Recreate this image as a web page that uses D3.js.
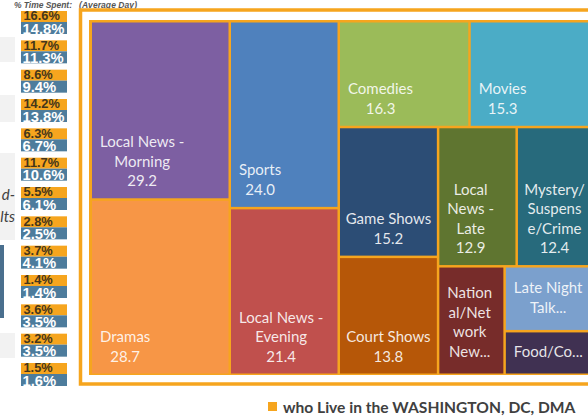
<!DOCTYPE html>
<html>
<head>
<meta charset="utf-8">
<script src="https://cdn.jsdelivr.net/npm/d3@7"></script>
<style>
  html, body { margin: 0; padding: 0; background: #ffffff; }
  svg { display: block; }
</style>
</head>
<body>
<svg id="chart" width="588" height="420"></svg>
<script>
// ---- data ----
const categories = ["Local News - Morning", "Dramas", "Sports", "Local News - Evening", "Comedies", "Movies",
  "Game Shows", "Court Shows", "Local News - Late", "Mystery/Suspense/Crime", "National/Network News",
  "Late Night Talk", "Food/Cooking"];
const values = [29.2, 28.7, 24.0, 21.4, 16.3, 15.3, 15.2, 13.8, 12.9, 12.4, 8.5, 6.7, 4.5];
const labelLines = [
  ["Local News -", "Morning", "29.2"],
  ["Dramas", "28.7"],
  ["Sports", "24.0"],
  ["Local News -", "Evening", "21.4"],
  ["Comedies", "16.3"],
  ["Movies", "15.3"],
  ["Game Shows", "15.2"],
  ["Court Shows", "13.8"],
  ["Local", "News -", "Late", "12.9"],
  ["Mystery/", "Suspens", "e/Crime", "12.4"],
  ["Nation", "al/Net", "work", "New..."],
  ["Late Night", "Talk..."],
  ["Food/Co..."]
];
const cellColors = ["#7D5FA2", "#F79646", "#4F81BD", "#C0504D", "#9BBB59", "#4BACC6",
  "#2C4D75", "#B65708", "#5F7530", "#276A7C", "#772C2A", "#7BA0CD", "#403152"];
const rowSizes = [2, 2, 2, 2, 2, 1, 1, 1];   // how many tiles each strip of the layout holds
const pctWashington = [16.6, 11.7, 8.6, 14.2, 6.3, 11.7, 5.5, 2.8, 3.7, 1.4, 3.6, 3.2, 1.5];
const pctOther = [14.8, 11.3, 9.4, 13.8, 6.7, 10.6, 6.1, 2.5, 4.1, 1.4, 3.5, 3.5, 1.6];
const legendLabel = "who Live in the WASHINGTON, DC, DMA";
const headerLeft = "% Time Spent:";
const headerRight = "(Average Day)";
const sideFragments = ["d-", "lts"];

// ---- styles ----
const ORANGE = "#F6A51E";
const BLUE = "#4D7C9C";
const svg = d3.select("#chart");

// header
svg.append("text").attr("x", 14).attr("y", 7.5).text(headerLeft)
  .attr("textLength", 58).attr("lengthAdjust", "spacing")
  .attr("font-family", "Liberation Sans, Arial, sans-serif").attr("font-size", 8.5)
  .attr("font-style", "italic").attr("font-weight", "bold").attr("fill", "#555");
svg.append("text").attr("x", 79).attr("y", 7.5).text(headerRight)
  .attr("textLength", 58).attr("lengthAdjust", "spacing")
  .attr("font-family", "Liberation Sans, Arial, sans-serif").attr("font-size", 8.5)
  .attr("font-style", "italic").attr("font-weight", "bold").attr("fill", "#555");

// left side fragments (cropped panel)
const grayBoxes = [[37, 62], [95, 122], [153, 240], [333, 358]];
svg.selectAll("rect.gray").data(grayBoxes).join("rect").attr("class", "gray")
  .attr("x", 0).attr("y", d => d[0]).attr("width", 15).attr("height", d => d[1] - d[0])
  .attr("fill", "#F2F2F2");
svg.append("rect").attr("x", 0).attr("y", 245).attr("width", 4).attr("height", 73).attr("fill", "#4A6F8E");
svg.selectAll("text.frag").data(sideFragments).join("text").attr("class", "frag")
  .attr("x", 15).attr("y", (d, i) => 200 + i * 22).attr("text-anchor", "end")
  .attr("font-family", "Lato, sans-serif").attr("font-size", 15).attr("font-style", "italic")
  .attr("fill", "#404040").text(d => d);

// percentage pairs
const pairScale = d3.scaleLinear().domain([0, pctWashington.length - 1]).range([11, 363]);
const fmt = d => d3.format(".1f")(d) + "%";
const pairs = svg.selectAll("g.pair").data(pctWashington.map((v, i) => ({ a: v, b: pctOther[i], i })))
  .join("g").attr("class", "pair").attr("transform", d => `translate(21,${pairScale(d.i)})`);
pairs.append("rect").attr("width", 46).attr("height", 11).attr("fill", ORANGE);
pairs.append("rect").attr("y", 11).attr("width", 46).attr("height", 12).attr("fill", BLUE);
pairs.append("text").attr("x", 2.5).attr("y", 9.4).text(d => fmt(d.a))
  .attr("font-family", "Liberation Sans, Arial, sans-serif").attr("font-weight", "bold")
  .attr("font-size", 12.8).attr("fill", "#45361A");
pairs.append("text").attr("x", 1.5).attr("y", 22.5).text(d => fmt(d.b))
  .attr("font-family", "Liberation Sans, Arial, sans-serif").attr("font-weight", "bold")
  .attr("font-size", 14.8).attr("fill", "#ffffff");

// frames
svg.append("rect").attr("x", 80.5).attr("y", 10).attr("width", 540).attr("height", 374)
  .attr("fill", "none").attr("stroke", ORANGE).attr("stroke-width", 3.5);
svg.append("rect").attr("x", 89).attr("y", 20).attr("width", 520).attr("height", 355).attr("fill", ORANGE);

// ---- treemap ----
function stripTile(parent, x0, y0, x1, y1) {
  const nodes = parent.children;
  let remaining = parent.value, i = 0;
  for (const count of rowSizes) {
    const row = nodes.slice(i, i + count); i += count;
    if (!row.length) break;
    const rowValue = d3.sum(row, d => d.value);
    const dx = x1 - x0, dy = y1 - y0;
    const strip = { children: row, value: rowValue };
    if (dx >= dy) {
      const w = remaining ? dx * rowValue / remaining : 0;
      d3.treemapSlice(strip, x0, y0, x0 + w, y1); x0 += w;
    } else {
      const h = remaining ? dy * rowValue / remaining : 0;
      d3.treemapDice(strip, x0, y0, x1, y0 + h); y0 += h;
    }
    remaining -= rowValue;
  }
}

const rootData = { children: categories.map((c, i) => ({ name: c, value: values[i], lines: labelLines[i], color: cellColors[i] })) };
const root = d3.hierarchy(rootData).sum(d => d.value || 0);
d3.treemap().tile(stripTile).size([499, 351]).paddingInner(2.5)(root);

const tm = svg.append("g").attr("transform", "translate(92,22.5)");
const leaves = tm.selectAll("g.cell").data(root.leaves()).join("g").attr("class", "cell");
leaves.append("rect")
  .attr("x", d => d.x0).attr("y", d => d.y0)
  .attr("width", d => d.x1 - d.x0).attr("height", d => d.y1 - d.y0)
  .attr("fill", d => d.data.color);

const LH = 19.5;
leaves.each(function (d) {
  const g = d3.select(this);
  const lines = d.data.lines;
  const truncated = lines.some(l => l.endsWith("..."));
  const bottomPad = truncated ? 17 : 12;
  const texts = lines.map((t, k) => g.append("text")
    .attr("font-family", "Lato, sans-serif").attr("font-size", 15)
    .attr("fill", "#ffffff").attr("fill-opacity", 0.88).attr("text-anchor", "middle")
    .attr("y", d.y1 - bottomPad - (lines.length - 1 - k) * LH).text(t));
  const widths = texts.map(t => t.node().getComputedTextLength());
  const bw = d3.max(widths);
  let cx = d.x0 + 8 + bw / 2;
  if (bw + 16 > d.x1 - d.x0) cx = (d.x0 + d.x1) / 2;
  texts.forEach(t => t.attr("x", cx));
});

// legend
svg.append("rect").attr("x", 268).attr("y", 402).attr("width", 9).attr("height", 9).attr("fill", ORANGE);
svg.append("text").attr("x", 283).attr("y", 413).text(legendLabel)
  .attr("font-family", "Lato, sans-serif").attr("font-weight", "bold")
  .attr("font-size", 15.6).attr("fill", "#404040");
</script>
</body>
</html>
